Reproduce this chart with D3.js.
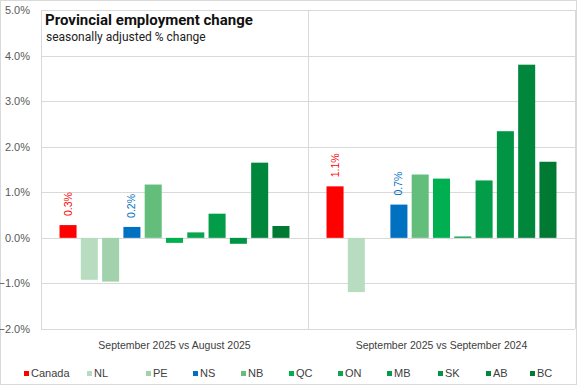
<!DOCTYPE html>
<html>
<head>
<meta charset="utf-8">
<script src="https://cdn.jsdelivr.net/npm/d3@7"></script>
<style>
  body { margin: 0; background: #fff; }
  svg { display: block; }
</style>
</head>
<body>
<svg id="chart" width="577" height="385"></svg>
<script>
const periods = ["September 2025 vs August 2025", "September 2025 vs September 2024"];
const regions = ["Canada", "NL", "PE", "NS", "NB", "QC", "ON", "MB", "SK", "AB", "BC"];
const monthly = [0.28, -0.92, -0.96, 0.24, 1.17, -0.11, 0.12, 0.53, -0.13, 1.65, 0.26];
const yearly = [1.13, -1.19, 0, 0.73, 1.39, 1.30, 0.03, 1.26, 2.34, 3.80, 1.67];
const yTicks = [-2, -1, 0, 1, 2, 3, 4, 5];
const labelled = ["Canada", "NS"];

const colors = ["#ff0000", "#b8dcc0", "#a2d2ab", "#0070c0", "#63be7b", "#00b050",
                "#0aa64f", "#039c49", "#009444", "#00873c", "#007a32"];
const legendX = [24, 87, 146, 193, 241, 289, 338, 387, 438, 486, 530];

const series = [monthly, yearly];
const rows = [];
periods.forEach((p, i) => regions.forEach((r, j) => rows.push({period: p, region: r, value: series[i][j]})));

const svg = d3.select("#chart");
const grid = "#d9d9d9";

// outer border
svg.append("rect").attr("x", 0.5).attr("y", 0.5).attr("width", 576).attr("height", 384)
    .attr("fill", "#fff").attr("stroke", grid);

const x0 = d3.scaleBand().domain(periods).range([41, 575]).padding(0);
const x1 = d3.scaleBand().domain(regions).range([0, x0.bandwidth()])
    .paddingInner(0.2).paddingOuter(0.87);
const y = d3.scaleLinear().domain([-2, 5]).range([329, 10]);
const color = d3.scaleOrdinal().domain(regions).range(colors);

// horizontal gridlines
svg.append("g").selectAll("line").data(yTicks).join("line")
    .attr("x1", 41).attr("x2", 575)
    .attr("y1", d => Math.round(y(d)) + 0.5).attr("y2", d => Math.round(y(d)) + 0.5)
    .attr("stroke", grid);

// vertical category dividers
const edges = periods.map(p => x0(p)).concat([x0.range()[1]]);
svg.append("g").selectAll("line").data(edges).join("line")
    .attr("x1", d => Math.round(d) + 0.5).attr("x2", d => Math.round(d) + 0.5)
    .attr("y1", y(5)).attr("y2", y(-2))
    .attr("stroke", grid);

// y tick labels
svg.append("g").selectAll("text").data(yTicks).join("text")
    .attr("x", 30).attr("y", d => y(d) + 4)
    .attr("text-anchor", "end")
    .style("font", "11px 'Liberation Sans', Arial, sans-serif")
    .attr("fill", "#595959")
    .text(d => d3.format(".1f")(d) + "%");

// bars
svg.append("g").selectAll("rect").data(rows).join("rect")
    .attr("x", d => x0(d.period) + x1(d.region))
    .attr("width", x1.bandwidth())
    .attr("y", d => y(Math.max(0, d.value)))
    .attr("height", d => Math.abs(y(d.value) - y(0)))
    .attr("fill", d => color(d.region));

// rotated value labels
svg.append("g").selectAll("text").data(rows.filter(d => labelled.includes(d.region))).join("text")
    .attr("transform", d => {
        const cx = x0(d.period) + x1(d.region) + x1.bandwidth() / 2 + 3.5;
        const cy = y(d.value) - 9;
        return `translate(${cx},${cy}) rotate(-90)`;
    })
    .style("font", "10.5px 'Liberation Sans', Arial, sans-serif")
    .attr("fill", d => color(d.region))
    .text(d => d3.format(".1%")(d.value / 100));

// category labels
svg.append("g").selectAll("text").data(periods).join("text")
    .attr("x", d => x0(d) + x0.bandwidth() / 2).attr("y", 349)
    .attr("text-anchor", "middle")
    .style("font", "10.5px 'Liberation Sans', Arial, sans-serif")
    .attr("fill", "#404040")
    .text(d => d);

// title box
svg.append("text").attr("x", 45).attr("y", 25)
    .style("font", "bold 15px Roboto, sans-serif").attr("fill", "#111")
    .text("Provincial employment change");
svg.append("text").attr("x", 46).attr("y", 41)
    .style("font", "12px Roboto, sans-serif").attr("fill", "#222")
    .text("seasonally adjusted % change");

// legend
const leg = svg.append("g").selectAll("g").data(regions).join("g")
    .attr("transform", (d, i) => `translate(${legendX[i]},376)`);
leg.append("rect").attr("x", 0).attr("y", -5).attr("width", 5).attr("height", 5)
    .attr("fill", d => color(d));
leg.append("text").attr("x", 7).attr("y", 0.5)
    .style("font", "11px 'Liberation Sans', Arial, sans-serif")
    .attr("fill", "#404040")
    .text(d => d);
</script>
</body>
</html>
